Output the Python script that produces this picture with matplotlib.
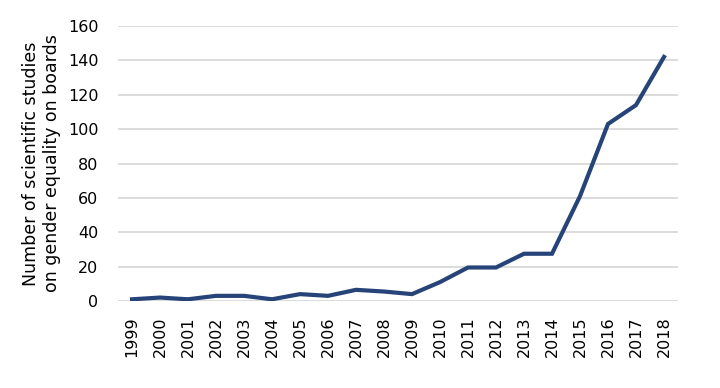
import matplotlib
matplotlib.use('Agg')
import matplotlib.pyplot as plt
import numpy as np

years = [str(y) for y in range(1999, 2019)]
studies = [1, 2, 1, 3, 3, 1, 4, 3, 6.5, 5.5, 4, 11, 19.5, 19.5, 27.5, 27.5, 61, 103, 114, 142]

fig = plt.figure(figsize=(7.2, 3.88), dpi=100)
ax = fig.add_axes([118 / 720, 1 - 301 / 388, 560 / 720, 275 / 388])

x = np.arange(len(years))
ax.plot(x, studies, color='#264478', linewidth=3.0, solid_joinstyle='miter')

ax.set_xlim(-0.5, len(years) - 0.5)
ax.set_ylim(0, 160)
ax.set_yticks(range(0, 161, 20))
ax.set_xticks(x)
ax.set_xticklabels(years, rotation=90)
ax.tick_params(axis='both', length=0, labelsize=11.5, colors='black')
ax.tick_params(axis='y', pad=14)
ax.tick_params(axis='x', pad=11)
ax.grid(axis='y', color='#d9d9d9', linewidth=1.3)
ax.set_axisbelow(True)
for s in ax.spines.values():
    s.set_visible(False)

ax.set_ylabel("Number of scientific studies\non gender equality on boards",
              fontsize=12.5, linespacing=1.25, labelpad=5)

fig.savefig('out.png', dpi=100)
